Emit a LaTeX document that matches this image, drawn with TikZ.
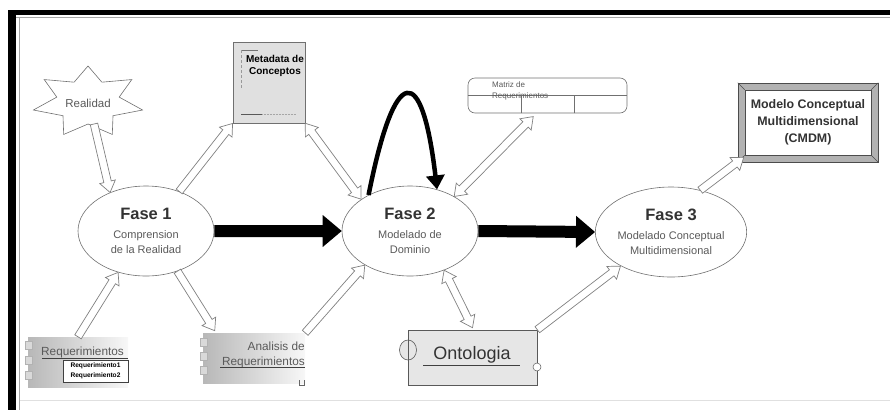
\documentclass[tikz,border=0pt]{standalone}
\usepackage{fontspec}
\setmainfont{Liberation Sans}
\usetikzlibrary{shapes.geometric,calc,arrows.meta}

\definecolor{edge}{HTML}{707070}
\definecolor{hollowline}{HTML}{808080}
\definecolor{titlegrey}{HTML}{333333}
\definecolor{subgrey}{HTML}{5A5A5A}
\definecolor{boxgrey}{HTML}{E0E0E0}
\definecolor{ontogrey}{HTML}{E6E6E6}

% block arrow from #2 to #3: style #1, shaft half width #4, head half width #5, head length #6
\newcommand\blockarrow[6]{%
  \path[#1] let \p1=(#2), \p2=(#3),
    \n1={atan2(\y2-\y1,\x2-\x1)}, \n2={veclen(\x2-\x1,\y2-\y1)} in
    [shift={(\p1)}, rotate=\n1]
    (0pt,-#4pt) -- ({\n2-#6pt},-#4pt) -- ({\n2-#6pt},-#5pt) -- ({\n2+0pt},0pt)
    -- ({\n2-#6pt},#5pt) -- ({\n2-#6pt},#4pt) -- (0pt,#4pt) -- cycle;}
% same block arrow with a head on both ends
\newcommand\blockarrowtwo[6]{%
  \path[#1] let \p1=(#2), \p2=(#3),
    \n1={atan2(\y2-\y1,\x2-\x1)}, \n2={veclen(\x2-\x1,\y2-\y1)} in
    [shift={(\p1)}, rotate=\n1]
    (0pt,0pt) -- (#6pt,-#5pt) -- (#6pt,-#4pt) -- ({\n2-#6pt},-#4pt) -- ({\n2-#6pt},-#5pt)
    -- ({\n2+0pt},0pt) -- ({\n2-#6pt},#5pt) -- ({\n2-#6pt},#4pt) -- (#6pt,#4pt)
    -- (#6pt,#5pt) -- cycle;}

\begin{document}
\begin{tikzpicture}[x=1pt,y=-1pt,
  phase/.style={ellipse, draw=edge, line width=0.6pt, fill=white,
    minimum width=136pt, minimum height=90pt, inner sep=0pt, align=center,
    text=subgrey, font=\fontsize{11}{15}\selectfont},
  hollow/.style={fill=white, draw=hollowline, line width=0.7pt},
  solidarr/.style={fill=black},
  starline/.style={draw=edge, line width=0.6pt, fill=white},
  tab/.style={fill=black!15, draw=black!30, line width=0.5pt},
  gradbox/.style={shading=axis, left color=black!28, right color=black!3,
    minimum width=#1, inner sep=0pt},
]
\useasboundingbox (0,0) rectangle (890,410);

% frame
\fill[black] (8,10) rectangle (890,15);
\fill[black] (8,10) rectangle (16,410);
\draw[black!35, line width=0.5pt] (16,17.5) -- (890,17.5);
\draw[black!35, line width=0.5pt] (19.5,17) -- (19.5,410);
\draw[black!12, line width=0.5pt] (19.5,400) -- (890,400);

% phases
\node[phase] (f1) at (146,231)
  {{\fontsize{16.5}{18}\selectfont\bfseries\color{titlegrey}Fase 1}\\[4pt]Comprension\\de la Realidad};
\node[phase] (f2) at (410,231)
  {{\fontsize{16.5}{18}\selectfont\bfseries\color{titlegrey}Fase 2}\\[4pt]Modelado de\\Dominio};
\node[phase] (f3) at (671,232)
  {{\fontsize{16.5}{18}\selectfont\bfseries\color{titlegrey}Fase 3}\\[4pt]Modelado Conceptual\\Multidimensional};

% Realidad (seven-pointed star)
\node[inner sep=0pt] (real) at (88,102) {};
\draw[starline, shift={(real.center)}] (0,-36)
  \foreach \k [evaluate=\k as \a using 90-\k*360/14,
               evaluate=\k as \rx using {ifthenelse(mod(\k,2)==0,56,32)},
               evaluate=\k as \ry using {ifthenelse(mod(\k,2)==0,36,22)}] in {1,...,13}
  { -- ({\rx*cos(\a)},{-\ry*sin(\a)}) } -- cycle;
\node[text=subgrey, font=\fontsize{11.5}{13}\selectfont, inner sep=0pt] (realtxt) at (88,103) {Realidad};
\coordinate (realfoot) at ($(real.center)+(6,22)$);

% Metadata de Conceptos
\node[draw=edge, fill=boxgrey, line width=0.6pt, minimum width=72pt, minimum height=81pt, inner sep=0pt] (meta) at (269,82.5) {};
\draw[black!55, line width=0.5pt] (241,50) -- (258,50);
\draw[black!40, line width=0.5pt, densely dashed] (241,50) -- (241,88);
\draw[black!65, line width=0.6pt] (241,114) -- (262,114);
\draw[black!35, line width=0.5pt, densely dotted] (262,114) -- (296,114);
\node[font=\fontsize{10}{12}\selectfont\bfseries, align=center, inner sep=0pt] (metatxt) at (275,66) {Metadata de\\Conceptos};

% Matriz de Requerimientos
\node[draw=edge, fill=white, line width=0.6pt, rounded corners=7pt, minimum width=159pt, minimum height=35pt, inner sep=0pt] (mat) at (547.5,95.5) {};
\draw[edge, line width=0.6pt] (mat.west) -- (mat.east);
\draw[edge, line width=0.6pt] ([xshift=54pt]mat.south west) -- ([xshift=54pt]mat.west);
\draw[edge, line width=0.6pt] ([xshift=107pt]mat.south west) -- ([xshift=107pt]mat.west);
\node[anchor=west, align=left, text=subgrey, font=\fontsize{8}{11}\selectfont, inner sep=0pt] (mattxt) at (492,90.5) {Matriz de\\Requerimientos};

% CMDM
\node[fill=black!30, draw=black!70, line width=0.6pt, minimum width=140pt, minimum height=79pt, inner sep=0pt] (cmdm) at (808,122.5) {};
\node[fill=white, draw=black!70, line width=0.6pt, minimum width=126pt, minimum height=65pt, inner sep=0pt,
  align=center, font=\fontsize{12.4}{17}\selectfont\bfseries, text=titlegrey] (cmdmtxt) at (cmdm.center)
  {Modelo Conceptual\\Multidimensional\\(CMDM)};
\draw[black!70, line width=0.5pt] (cmdm.north west) -- (cmdmtxt.north west)
  (cmdm.north east) -- (cmdmtxt.north east)
  (cmdm.south west) -- (cmdmtxt.south west)
  (cmdm.south east) -- (cmdmtxt.south east);

% Requerimientos
\node[gradbox=100pt, minimum height=50pt] (req) at (78,362) {};
\foreach \ty in {345,360,375} \draw[tab] (25,\ty-4) rectangle (32,\ty+4);
\node[anchor=west, text=subgrey, font=\fontsize{11.8}{13}\selectfont, inner sep=0pt] (reqtxt) at (41,352) {Requerimientos};
\draw[black!75, line width=0.7pt] (42,358.5) -- (128,358.5);
\node[draw=black!75, fill=white, line width=0.6pt, minimum width=65pt, minimum height=22pt, inner sep=0pt,
  align=center, font=\fontsize{6.6}{9.5}\selectfont\bfseries] (reqs) at (95.5,371)
  {Requerimiento1\\Requerimiento2};

% Analisis de Requerimientos
\node[gradbox=102pt, minimum height=50pt] (ana) at (254,358) {};
\foreach \ty in {342,356,370} \draw[tab] (200,\ty-4) rectangle (207,\ty+4);
\node[anchor=east, align=right, text=subgrey, font=\fontsize{11.8}{15}\selectfont, inner sep=0pt] (anatxt) at (305,354.5) {Analisis de\\Requerimientos};
\draw[black!75, line width=0.7pt] (220,367.5) -- (305,367.5);
\draw[black!60, line width=0.5pt] (299,380) -- (299,385) -- (304,385) -- (304,380);

% Ontologia
\node[draw=black!65, fill=ontogrey, line width=0.6pt, minimum width=129pt, minimum height=55pt, inner sep=0pt] (onto) at (472.5,357.5) {};
\draw[black!65, fill=ontogrey, line width=0.6pt] (408,350) ellipse [x radius=8.5pt, y radius=10pt];
\draw[black!65, line width=0.6pt] (408,340) -- (408,360);
\draw[black!65, fill=white, line width=0.5pt] (537,367) circle [radius=4pt];
\node[text=titlegrey, font=\fontsize{18}{20}\selectfont, inner sep=0pt] (ontotxt) at (472,355) {Ontologia};
\draw[black!75, line width=0.7pt] (423,365.5) -- (520,365.5);

% main flow
\blockarrow{solidarr}{f1.east}{f2.west}{6}{16}{19}
\blockarrow{solidarr}{f2.east}{f3.west}{6}{16}{19}

% feedback loop on phase 2
\draw[line width=4.5pt, -{Triangle[length=14pt,width=18pt]}]
  (f2.139) .. controls (395,62) and (422,62) .. (f2.57);

% hollow connectors
\blockarrow{hollow}{realfoot}{f1.133}{3.8}{8}{11}
\blockarrow{hollow}{f1.50}{meta.south west}{3.8}{8}{11}
\blockarrowtwo{hollow}{meta.south east}{f2.147}{3.8}{8}{11}
\blockarrowtwo{hollow}{f2.38}{[xshift=-14pt,yshift=-3pt]mat.south}{3.8}{8}{11}
\blockarrow{hollow}{f3.55}{[xshift=6pt,yshift=5pt]cmdm.south west}{3.8}{8}{11}
\blockarrow{hollow}{req.north}{f1.236}{3.8}{8}{11}
\blockarrow{hollow}{f1.308}{[xshift=12pt,yshift=2pt]ana.north west}{3.8}{8}{11}
\blockarrow{hollow}{ana.north east}{f2.217}{3.8}{8}{11}
\blockarrowtwo{hollow}{f2.311}{[yshift=2pt]onto.north}{3.8}{8}{11}
\blockarrow{hollow}{onto.north east}{f3.214}{3.8}{8}{11}
\end{tikzpicture}
\end{document}
